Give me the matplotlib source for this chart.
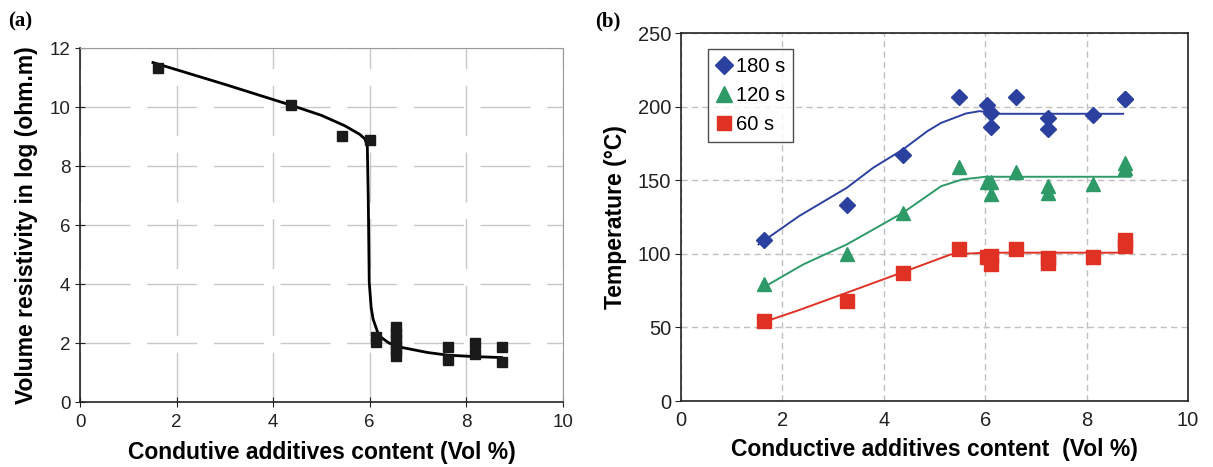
import matplotlib
matplotlib.use("Agg")
import matplotlib.pyplot as plt
from matplotlib.lines import Line2D

# ---------------- Panel (a) data ----------------
a_x = [1.62, 4.36, 5.43, 6.00, 6.12, 6.12,
       6.55, 6.55, 6.55, 6.55, 6.55, 6.55,
       7.62, 7.62, 8.18, 8.18, 8.75, 8.75]
a_y = [11.32, 10.07, 9.02, 8.88, 2.20, 2.05,
       2.55, 2.35, 2.15, 1.95, 1.75, 1.55,
       1.86, 1.42, 2.00, 1.62, 1.86, 1.35]
a_fit_x = [1.51, 3.0, 4.36, 5.0, 5.48, 5.79, 5.90, 5.95, 5.97, 5.99, 6.03, 6.07, 6.19, 6.40, 6.67, 7.2, 7.62, 8.2, 8.73]
a_fit_y = [11.51, 10.77, 10.07, 9.72, 9.37, 9.08, 8.92, 8.69, 6.88, 4.06, 3.20, 2.81, 2.25, 2.00, 1.85, 1.68, 1.59, 1.54, 1.51]

# ---------------- Panel (b) data ----------------
b_x = [1.64, 3.27, 4.38, 5.49, 6.03, 6.12, 6.12, 6.60, 7.23, 7.23, 8.13, 8.76, 8.76]
t180 = [109.4, 132.9, 167.1, 206.7, 200.9, 195.9, 186.1, 206.7, 192.5, 184.6, 194.3, 205.4, 205.4]
t120 = [79.3, 99.6, 128.0, 159.0, 148.8, 148.8, 140.8, 155.8, 146.0, 141.5, 147.2, 162.0, 158.5]
t60 = [54.3, 67.9, 87.2, 103.5, 97.8, 98.5, 92.8, 103.5, 97.4, 94.0, 98.0, 109.4, 105.3]

f180_x = [1.53, 2.33, 3.27, 3.79, 4.38, 4.86, 5.13, 5.62, 5.89, 6.12, 6.31, 8.72]
f180_y = [106.4, 125.7, 144.9, 158.5, 171.0, 183.4, 189.0, 195.4, 197.0, 195.9, 195.2, 195.2]
f120_x = [1.56, 2.41, 3.27, 4.38, 4.71, 5.13, 5.55, 6.01, 8.87]
f120_y = [75.9, 92.8, 106.4, 128.0, 135.9, 146.0, 150.6, 152.4, 152.4]
f60_x = [1.56, 2.33, 3.27, 4.38, 5.32, 6.01, 8.87]
f60_y = [52.8, 61.8, 73.6, 87.6, 99.6, 100.8, 100.8]

series_labels = ["180 s", "120 s", "60 s"]
BLUE = "#2c40a0"
GREEN = "#2e9a68"
RED = "#e03224"

fig = plt.figure(figsize=(12.13, 4.67), dpi=100)
lab_font = dict(family="Liberation Sans", weight="bold", size=16.5)

# ---------------- Panel (a) ----------------
ax1 = fig.add_axes([0.066, 0.139, 0.398, 0.758])
ax1.set_xlim(0, 10)
ax1.set_ylim(0, 12)
ax1.set_xticks(range(0, 11, 2))
ax1.set_yticks(range(0, 13, 2))
ax1.grid(True, color="#c8c8c8", lw=1.0, ls=(0, (36, 12)))
ax1.set_axisbelow(True)
ax1.plot(a_fit_x, a_fit_y, color="black", lw=2.0, zorder=2)
ax1.plot(a_x, a_y, ls="none", marker="s", ms=7.5, mfc="#1a1a1a", mec="#1a1a1a", zorder=3)
for s in ["top", "right"]:
    ax1.spines[s].set_color("#999999")
for s in ["left", "bottom"]:
    ax1.spines[s].set_color("#222222")
    ax1.spines[s].set_linewidth(1.2)
ax1.tick_params(direction="inout", length=7, color="#222222", labelsize=13.5)
ax1.tick_params(axis="x", pad=5)
for lbl in ax1.get_xticklabels() + ax1.get_yticklabels():
    lbl.set_fontfamily("Liberation Sans")
    lbl.set_color("#222222")
ax1.set_xlabel("Condutive additives content (Vol %)", labelpad=7, **lab_font)
ax1.set_ylabel("Volume resistivity in log (ohm.m)", labelpad=8, **lab_font)
fig.text(0.007, 0.955, "(a)", family="Liberation Serif", weight="bold", size=15, ha="left", va="center")

# ---------------- Panel (b) ----------------
ax2 = fig.add_axes([0.5614, 0.1413, 0.418, 0.7877])
ax2.set_xlim(0, 10)
ax2.set_ylim(0, 250)
ax2.set_xticks(range(0, 11, 2))
ax2.set_yticks(range(0, 251, 50))
ax2.grid(True, color="#c0c0c0", lw=1.0, ls=(0, (4.5, 3)))
ax2.set_axisbelow(True)
ax2.plot(f180_x, f180_y, color=BLUE, lw=1.4, zorder=2)
ax2.plot(f120_x, f120_y, color=GREEN, lw=1.4, zorder=2)
ax2.plot(f60_x, f60_y, color=RED, lw=1.4, zorder=2)
ax2.plot(b_x, t180, ls="none", marker="D", ms=8, mfc=BLUE, mec=BLUE, zorder=3)
ax2.plot(b_x, t120, ls="none", marker="^", ms=10, mfc=GREEN, mec=GREEN, zorder=3)
ax2.plot(b_x, t60, ls="none", marker="s", ms=10, mfc=RED, mec=RED, zorder=3)
for s in ax2.spines.values():
    s.set_color("#222222")
    s.set_linewidth(1.2)
ax2.tick_params(axis="y", direction="out", length=4, color="#222222", labelsize=14.5, pad=3)
ax2.tick_params(axis="x", direction="out", length=0, labelsize=14.5, pad=7)
for lbl in ax2.get_xticklabels() + ax2.get_yticklabels():
    lbl.set_fontfamily("Liberation Sans")
    lbl.set_color("#222222")
ax2.set_xlabel("Conductive additives content  (Vol %)", labelpad=6, **lab_font)
ax2.set_ylabel("Temperature (°C)", labelpad=8, **lab_font)
handles = [
    Line2D([], [], ls="none", marker="D", ms=9, mfc=BLUE, mec=BLUE),
    Line2D([], [], ls="none", marker="^", ms=11, mfc=GREEN, mec=GREEN),
    Line2D([], [], ls="none", marker="s", ms=10, mfc=RED, mec=RED),
]
leg = ax2.legend(handles, series_labels, loc="upper left", bbox_to_anchor=(0.053, 0.957),
                 prop={"family": "Liberation Sans", "size": 14.5}, frameon=True, fancybox=False,
                 edgecolor="#222222", handlelength=0.8, handletextpad=0.2, borderpad=0.4,
                 labelspacing=0.5, borderaxespad=0)
leg.get_frame().set_linewidth(1.0)
fig.text(0.491, 0.955, "(b)", family="Liberation Serif", weight="bold", size=15, ha="left", va="center")

fig.savefig("out.png", dpi=100)
